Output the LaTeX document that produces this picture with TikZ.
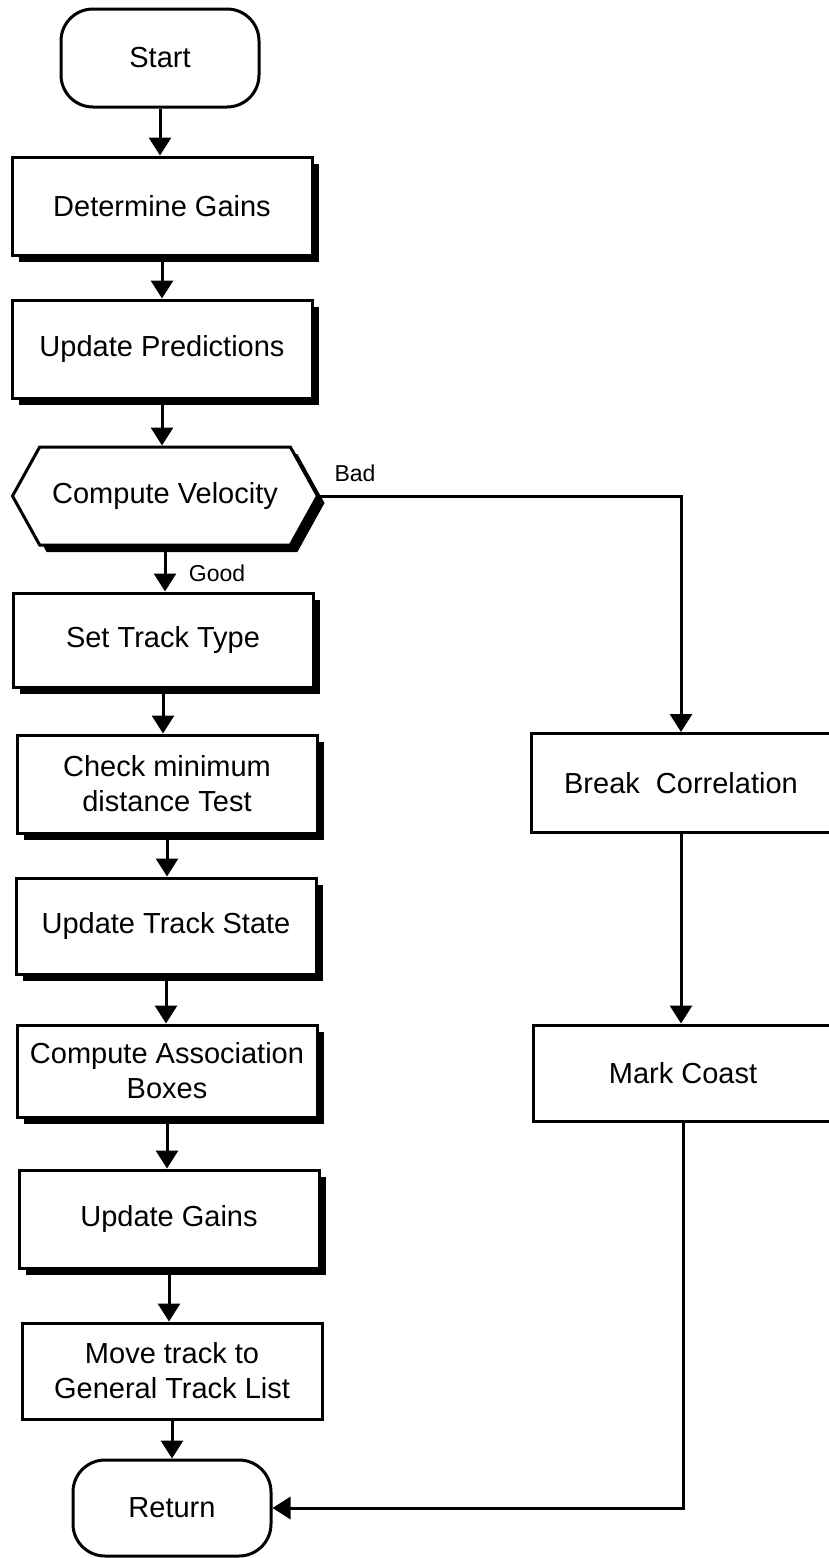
\documentclass[tikz,border=0pt]{standalone}
\usepackage{fontspec}
\setmainfont{Liberation Sans}
\usetikzlibrary{arrows.meta,shapes.symbols,shadows}

\tikzset{
  procbox/.style={draw,line width=1.5pt,fill=white,align=center,inner sep=2pt,
    minimum width=150pt,minimum height=49pt,font=\fontsize{14.5}{17.5}\selectfont},
  shadowed/.style={drop shadow={shadow xshift=3.5pt,shadow yshift=-3.5pt,fill=black,opacity=1}},
  termbox/.style={procbox,rounded corners=16pt,minimum width=99pt},
  hexbox/.style={procbox,shape=signal,signal to=east and west,signal pointer angle=122,minimum width=152.5pt},
  flow/.style={-{Triangle[width=11pt,length=9pt]},line width=1.5pt},
  branch/.style={font=\fontsize{11.5}{13}\selectfont,inner sep=0pt}
}

\begin{document}
\begin{tikzpicture}[>=Stealth,x=0.5pt,y=-0.5pt]
\useasboundingbox (0,0) rectangle (829,1558);
% main column
\node[termbox] (start) at (160,58) {Start};
\node[procbox,shadowed] (gains) at (162,206) {Determine Gains};
\node[procbox,shadowed] (predict) at (162,349) {Update Predictions};
\node[hexbox,shadowed] (velocity) at (165,496) {Compute Velocity};
\node[procbox,shadowed,minimum height=47pt] (settype) at (163,640) {Set Track Type};
\node[procbox,shadowed] (mindist) at (167,784) {Check minimum\\distance Test};
\node[procbox,shadowed,minimum height=48pt] (trackstate) at (166,926) {Update Track State};
\node[procbox,shadowed,minimum height=46pt] (assoc) at (167,1071) {Compute Association\\Boxes};
\node[procbox,shadowed] (upgains) at (169,1219) {Update Gains};
\node[procbox,minimum height=48pt] (movetrack) at (172,1371) {Move track to\\General Track List};
\node[termbox,minimum height=48pt] (ret) at (172,1508) {Return};
% bad branch
\node[procbox,minimum height=49.5pt] (breakcorr) at (681,783) {Break\ \ Correlation};
\node[procbox,minimum height=48pt] (coast) at (683,1073) {Mark Coast};
\node[branch] (bad) at (355,473) {Bad};
\node[branch] (good) at (217,573) {Good};

\foreach \a/\b in {start/gains,gains/predict,predict/velocity,velocity/settype,
    settype/mindist,mindist/trackstate,trackstate/assoc,assoc/upgains,
    upgains/movetrack,movetrack/ret}
  \draw[flow] (\a.south) -- (\a.south |- \b.north);
\draw[flow] (velocity.east) -| (breakcorr.north);
\draw[flow] (breakcorr.south) -- (breakcorr.south |- coast.north);
\draw[flow] (coast.south) |- (ret.east);
\end{tikzpicture}
\end{document}
